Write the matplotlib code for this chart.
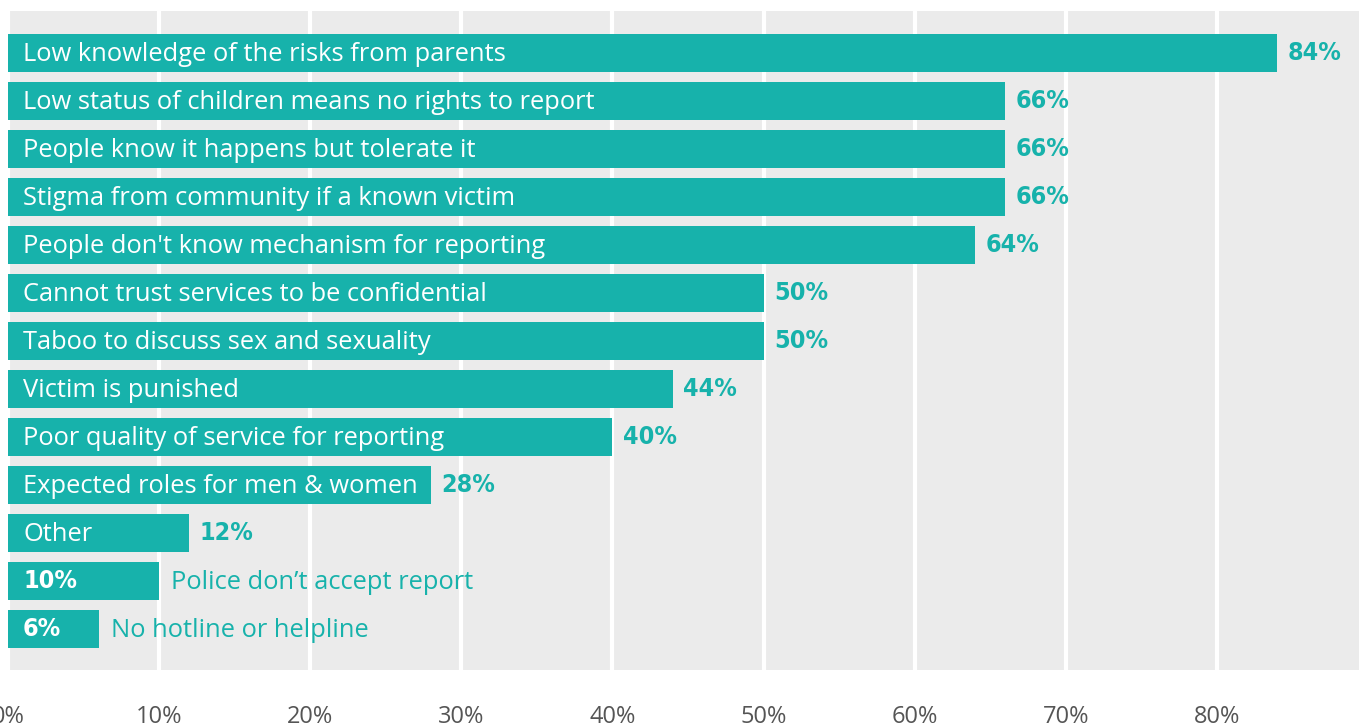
import matplotlib.pyplot as plt
from matplotlib import font_manager
import numpy as np

categories = [
    "Low knowledge of the risks from parents",
    "Low status of children means no rights to report",
    "People know it happens but tolerate it",
    "Stigma from community if a known victim",
    "People don't know mechanism for reporting",
    "Cannot trust services to be confidential",
    "Taboo to discuss sex and sexuality",
    "Victim is punished",
    "Poor quality of service for reporting",
    "Expected roles for men & women",
    "Other",
    "Police don\u2019t accept report",
    "No hotline or helpline",
]
values = [84, 66, 66, 66, 64, 50, 50, 44, 40, 28, 12, 10, 6]
xticks = [0, 10, 20, 30, 40, 50, 60, 70, 80]

teal = "#17b2ab"
bg = "#ebebeb"
label_font = ["Open Sans", "DejaVu Sans"]

# condensed bold font for the numbers, if there is one
num_props = dict(family="DejaVu Sans", fontweight="bold", fontsize=15)
cond = font_manager.findfont(font_manager.FontProperties(
    family="DejaVu Sans", weight="bold", stretch="condensed"))
if "Condensed" in cond:
    num_props = dict(family="DejaVu Sans", fontweight="bold",
                     fontstretch="condensed", fontsize=18)

fig = plt.figure(figsize=(13.59, 7.28), dpi=100)
ax = fig.add_axes([8 / 1359, 58 / 728, 1351 / 1359, 659 / 728])
ax.set_facecolor(bg)

y = np.arange(len(values))
ax.barh(y, values, height=0.79, color=teal, zorder=2)

for yi, (cat, v) in enumerate(zip(categories, values)):
    if v >= 12:
        ax.text(1, yi + 0.03, cat, color="white", fontsize=18.4, va="center",
                ha="left", family=label_font, zorder=3)
        ax.text(v + 0.7, yi, f"{v}%", color=teal, va="center",
                ha="left", zorder=3, **num_props)
    else:
        ax.text(1, yi, f"{v}%", color="white", va="center",
                ha="left", zorder=3, **num_props)
        ax.text(v + 0.8, yi + 0.03, cat, color=teal, fontsize=18.4, va="center",
                ha="left", family=label_font, zorder=3)

ax.set_xlim(0, 89.4)
ax.set_ylim(12.854, -0.875)
ax.set_xticks(xticks)
ax.set_xticklabels([f"{t}%" for t in xticks], family=label_font,
                   fontsize=17, color="#555555")
ax.tick_params(axis="x", length=0, pad=25)
ax.set_yticks([])
ax.grid(axis="x", color="white", linewidth=3, zorder=1)
ax.set_axisbelow(True)
for s in ax.spines.values():
    s.set_visible(False)

fig.savefig("out.png", dpi=100)
